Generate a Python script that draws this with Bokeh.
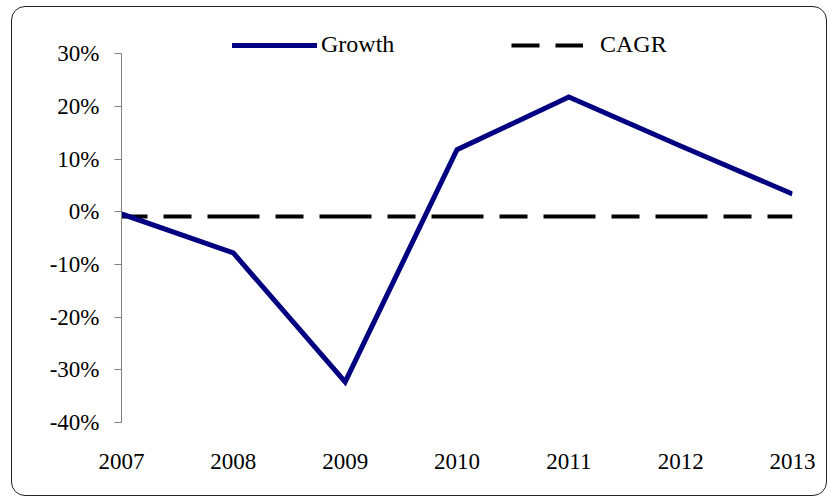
from bokeh.plotting import figure
from bokeh.models import (Range1d, FixedTicker, NumeralTickFormatter, Legend,
                          LegendItem, InlineStyleSheet)
from bokeh.embed import file_html
from bokeh.resources import INLINE

years = [2007, 2008, 2009, 2010, 2011, 2012, 2013]
growth = [-0.004, -0.078, -0.323, 0.118, 0.218, 0.125, 0.034]
cagr_value = -0.009
cagr = [cagr_value] * len(years)
y_ticks = [-0.4, -0.3, -0.2, -0.1, 0.0, 0.1, 0.2, 0.3]

FONT = "Liberation Serif"

p = figure(width=830, height=501, output_backend="svg", toolbar_location=None,
           x_range=Range1d(2007, 2013), y_range=Range1d(-0.40, 0.35),
           min_border_left=121, min_border_right=38, min_border_top=27,
           min_border_bottom=79)
p.outline_line_color = None
p.xgrid.visible = False
p.ygrid.visible = False
p.background_fill_color = "white"
p.border_fill_color = "white"

# x axis: labels only
p.xaxis.ticker = FixedTicker(ticks=years)
p.xaxis.axis_line_color = None
p.xaxis.major_tick_line_color = None
p.xaxis.minor_tick_line_color = None
p.xaxis.major_label_standoff = 25
p.xaxis.major_label_text_font = FONT
p.xaxis.major_label_text_font_size = "23px"
p.xaxis.major_label_text_color = "black"

# y axis
p.yaxis.ticker = FixedTicker(ticks=y_ticks)
p.yaxis.bounds = (-0.4, 0.3)
p.yaxis.formatter = NumeralTickFormatter(format="0%")
p.yaxis.axis_line_color = "#808080"
p.yaxis.major_tick_line_color = "#808080"
p.yaxis.major_tick_in = 0
p.yaxis.major_tick_out = 7
p.yaxis.minor_tick_line_color = None
p.yaxis.major_label_standoff = 15
p.yaxis.major_label_text_font = FONT
p.yaxis.major_label_text_font_size = "23px"
p.yaxis.major_label_text_color = "black"

r_cagr = p.line(years, cagr, line_color="black", line_width=4,
                line_dash="52 16 28 16", line_dash_offset=26)
r_growth = p.line(years, growth, line_color="#000080", line_width=5,
                  line_join="miter")

# legend-only renderers (drawn off-range) for legend glyph styling
off_x = [1990, 1991]
off_y = [0.0, 0.0]
lg_growth = p.line(off_x, off_y, line_color="#000080", line_width=5,
                   line_cap="round")
lg_cagr = p.line(off_x, off_y, line_color="black", line_width=4,
                 line_dash="28 16")

leg1 = Legend(items=[LegendItem(label="Growth", renderers=[lg_growth])],
              location=(111, 364), glyph_width=85, glyph_height=20,
              label_standoff=4, padding=0, margin=0,
              label_text_font=FONT, label_text_font_size="24px",
              label_text_color="black",
              border_line_color=None, background_fill_alpha=0)
leg2 = Legend(items=[LegendItem(label="CAGR", renderers=[lg_cagr])],
              location=(390, 364), glyph_width=72, glyph_height=20,
              label_standoff=17, padding=0, margin=0,
              label_text_font=FONT, label_text_font_size="24px",
              label_text_color="black",
              border_line_color=None, background_fill_alpha=0)
p.add_layout(leg1)
p.add_layout(leg2)

# rounded outer frame of the chart area
p.stylesheets = [InlineStyleSheet(css="""
:host { position: relative; }
:host::after {
  content: '';
  position: absolute;
  left: 11px; top: 6px;
  width: 816px; height: 490px;
  border: 1.5px solid #222222;
  border-radius: 14px;
  pointer-events: none;
  box-sizing: border-box;
}
""")]

open("out.html", "w").write(file_html(p, INLINE))
